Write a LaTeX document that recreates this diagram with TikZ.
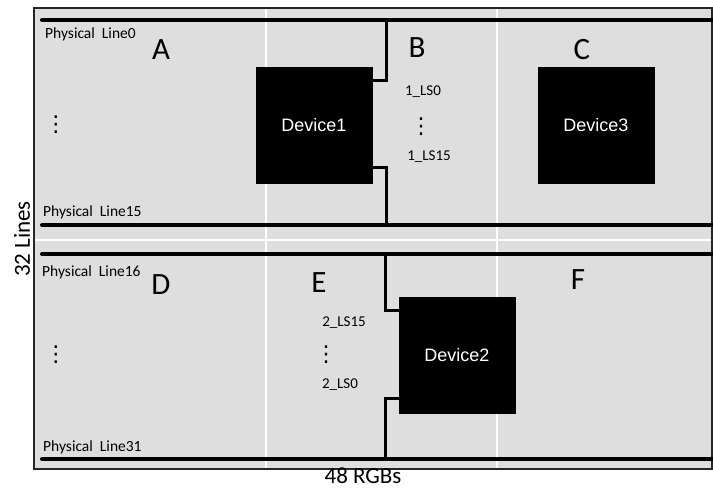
\documentclass[tikz,border=0pt]{standalone}
\usepackage{fontspec}
\setmainfont{Carlito}
\newfontfamily\arialfont{Liberation Sans}
\newfontfamily\dvfont{DejaVu Sans}
\definecolor{panel}{HTML}{DEDEDE}
\begin{document}
\begin{tikzpicture}[x=1pt,y=-1pt,
  bus/.style={line width=4pt, line cap=round},
  conn/.style={line width=3pt},
  sep/.style={white, line width=2pt},
  device/.style={draw=black, fill=black, minimum width=116pt, minimum height=116pt, inner sep=0pt, text=white, font=\arialfont\fontsize{18}{18}\selectfont},
  phys/.style={font=\fontsize{15.5}{15.5}\selectfont, anchor=west, inner sep=0pt},
  region/.style={font=\fontsize{31}{31}\selectfont, inner sep=0pt},
  ls/.style={font=\fontsize{15}{15}\selectfont, inner sep=0pt},
  vd/.style={font=\dvfont\fontsize{22}{22}\selectfont, inner sep=0pt},
  axislabel/.style={font=\fontsize{23}{23}\selectfont, inner sep=0pt}]
\useasboundingbox (0,0) rectangle (713,490);
% panel
\fill[panel] (34,8) rectangle (712,469);
\draw[sep] (266,9) -- (266,468);
\draw[sep] (497,9) -- (497,468);
\draw[sep] (35,240) -- (711,240);
\draw[line width=1.6pt, black!85] (34,8) rectangle (712,469);
% bus lines
\coordinate (l0a) at (42,20);  \coordinate (l0b) at (712,20);
\coordinate (l15a) at (42,225); \coordinate (l15b) at (712,225);
\coordinate (l16a) at (42,254); \coordinate (l16b) at (712,254);
\coordinate (l31a) at (42,459); \coordinate (l31b) at (712,459);
\draw[bus] (l0a) -- (l0b);
\draw[bus] (l15a) -- (l15b);
\draw[bus] (l16a) -- (l16b);
\draw[bus] (l31a) -- (l31b);
% devices
\node[device] (dev1) at (314,125) {Device1};
\node[device] (dev3) at (596,125) {Device3};
\node[device] (dev2) at (457,355) {Device2};
% connectors
\coordinate (j1t) at (386,20);
\coordinate (j1b) at (386,225);
\coordinate (j2t) at (385,254);
\coordinate (j2b) at (385,459);
\draw[conn] (j1t) |- (dev1.east |- 0,80);
\draw[conn] (j1b) |- (dev1.east |- 0,167);
\draw[conn] (j2t) |- (dev2.west |- 0,310);
\draw[conn] (j2b) |- (dev2.west |- 0,398);
% physical line labels
\node[phys] (p0) at (45,34) {Physical\ \ Line0};
\node[phys] (p15) at (43,212) {Physical\ \ Line15};
\node[phys] (p16) at (42,272) {Physical\ \ Line16};
\node[phys] (p31) at (43,447) {Physical\ \ Line31};
% region letters
\node[region] (rA) at (161,50) {A};
\node[region] (rB) at (417,48) {B};
\node[region] (rC) at (582,50) {C};
\node[region] (rD) at (161,285) {D};
\node[region] (rE) at (319,283) {E};
\node[region] (rF) at (578,280) {F};
% logical lines
\node[ls] (ls10) at (423,92) {1\_LS0};
\node[ls] (ls115) at (429,157) {1\_LS15};
\node[ls] (ls215) at (344,323) {2\_LS15};
\node[ls] (ls20) at (340,385) {2\_LS0};
% dots
\node[vd] (vA) at (56,125) {⋮};
\node[vd] (vB) at (421,127) {⋮};
\node[vd] (vD) at (56,355) {⋮};
\node[vd] (vE) at (326,355) {⋮};
% axis labels
\node[axislabel, rotate=90] (ylab) at (22,239) {32 Lines};
\node[axislabel, anchor=base] (xlab) at (363,483) {48 RGBs};
\end{tikzpicture}
\end{document}
